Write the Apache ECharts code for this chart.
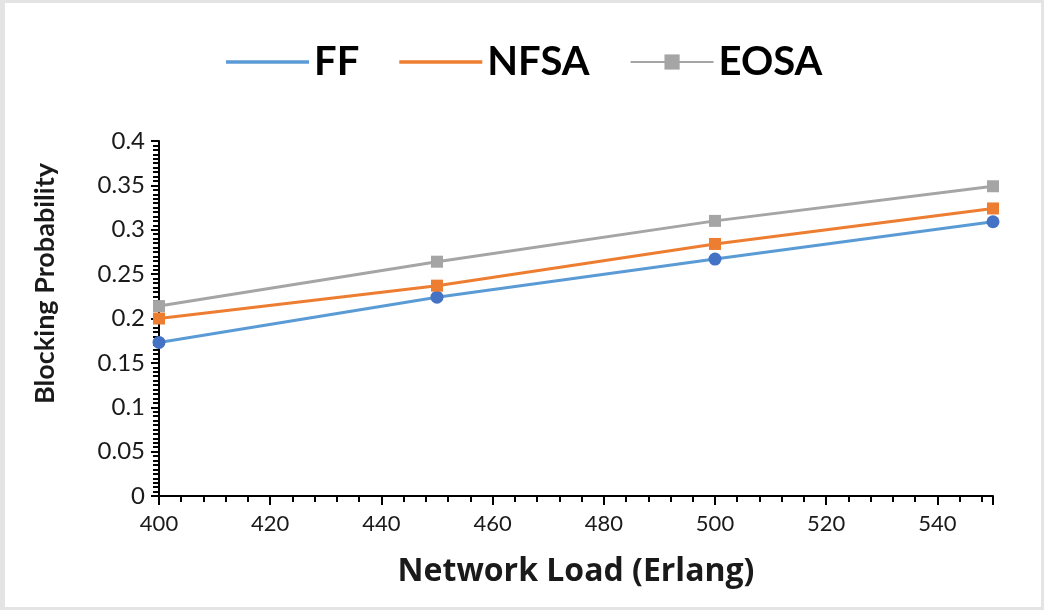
<!DOCTYPE html>
<html>
<head>
<meta charset="utf-8">
<script src="https://cdn.jsdelivr.net/npm/echarts@6/dist/echarts.min.js"></script>
<style>
  html, body { margin: 0; padding: 0; background: #ffffff; }
  #chart { position: absolute; left: 0; top: 0; width: 1044px; height: 610px; }
  #frame { position: absolute; left: 0; top: 0; width: 1044px; height: 610px;
           box-sizing: border-box; border: 3px solid #e4e4e4; border-left-width: 5px;
           pointer-events: none; }
</style>
</head>
<body>
<div id="chart"></div>
<div id="frame"></div>
<script>
// Network load (Erlang) on the x axis
const loads = [400, 450, 500, 550];

// Blocking probability per algorithm
const ffValues   = [0.173, 0.224, 0.267, 0.309];
const nfsaValues = [0.200, 0.237, 0.284, 0.324];
const eosaValues = [0.214, 0.264, 0.310, 0.349];

const seriesNames = ['FF', 'NFSA', 'EOSA'];

// Axis ranges and tick steps
const xRange = [400, 550], xStep = 20;
const yRange = [0, 0.4], yStep = 0.05;

const FONT = 'Lato, "Open Sans", sans-serif';
const WIDE = '"Open Sans", Lato, sans-serif';
const bar = 'path://M0,0H100V4H0Z';

function pairs(vals) { return loads.map((x, i) => [x, vals[i]]); }

const chart = echarts.init(document.getElementById('chart'), null, { renderer: 'canvas' });

chart.setOption({
  backgroundColor: '#ffffff',
  animation: false,
  legend: {
    left: 221,
    top: 37,
    itemWidth: 83,
    itemHeight: 19,
    itemGap: 40,
    textStyle: { fontFamily: FONT, fontWeight: 'bold', fontSize: 40, color: '#000000' },
    data: [
      { name: seriesNames[0], icon: bar, itemStyle: { color: '#5B9BD5' } },
      { name: seriesNames[1], icon: bar, itemStyle: { color: '#ED7D31' } },
      { name: seriesNames[2] }
    ]
  },
  grid: { left: 159, right: 51, top: 141, bottom: 114 },
  xAxis: {
    type: 'value',
    min: xRange[0], max: xRange[1], interval: xStep,
    name: 'Network Load (Erlang)',
    nameLocation: 'middle',
    nameGap: 60,
    nameTextStyle: { fontFamily: WIDE, fontWeight: 'bold', fontSize: 32, color: '#1a1a1a' },
    axisLine: { show: true, onZero: false, lineStyle: { color: '#000000', width: 2 } },
    axisTick: { show: true, inside: false, length: 9, lineStyle: { color: '#000000', width: 2 } },
    minorTick: { show: true, splitNumber: 5, length: 6, lineStyle: { color: '#000000', width: 2 } },
    axisLabel: { fontFamily: FONT, fontSize: 22, color: '#1a1a1a', margin: 17, showMaxLabel: false },
    splitLine: { show: false }
  },
  yAxis: {
    type: 'value',
    min: yRange[0], max: yRange[1], interval: yStep,
    name: 'Blocking Probability',
    nameLocation: 'middle',
    nameGap: 100,
    nameRotate: 90,
    nameTextStyle: { fontFamily: FONT, fontWeight: 'bold', fontSize: 27, color: '#1a1a1a', padding: [0, 0, 0, 70] },
    axisLine: { show: true, lineStyle: { color: '#000000', width: 2 } },
    axisTick: { show: true, inside: false, length: 8, lineStyle: { color: '#000000', width: 2 } },
    minorTick: { show: true, splitNumber: 10, length: 6, lineStyle: { color: '#000000', width: 2 } },
    axisLabel: { fontFamily: FONT, fontSize: 24, color: '#1a1a1a', margin: 14 },
    splitLine: { show: false }
  },
  series: [
    {
      name: seriesNames[0], type: 'line', data: pairs(ffValues),
      symbol: 'circle', symbolSize: 13,
      lineStyle: { color: '#5B9BD5', width: 3 },
      itemStyle: { color: '#4472C4' }
    },
    {
      name: seriesNames[1], type: 'line', data: pairs(nfsaValues),
      symbol: 'rect', symbolSize: 12,
      lineStyle: { color: '#ED7D31', width: 3 },
      itemStyle: { color: '#ED7D31' }
    },
    {
      name: seriesNames[2], type: 'line', data: pairs(eosaValues),
      symbol: 'rect', symbolSize: 12,
      lineStyle: { color: '#A5A5A5', width: 3 },
      itemStyle: { color: '#A5A5A5' }
    }
  ]
});
</script>
</body>
</html>
